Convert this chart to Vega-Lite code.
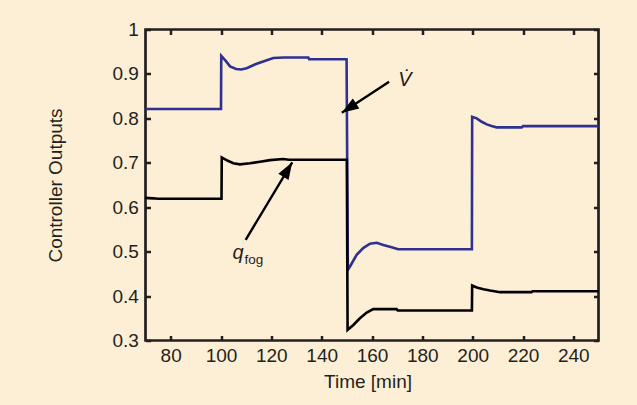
{
  "$schema": "https://vega.github.io/schema/vega-lite/v6.json",
  "width": 453,
  "height": 311,
  "autosize": {"type": "none"},
  "padding": {"left": 145.5, "top": 29.5, "right": 38.5, "bottom": 64.5},
  "background": "#fdefd5",
  "config": {
    "view": {"stroke": "#231f20", "strokeWidth": 2.7, "fill": "#fdefd5"},
    "axis": {
      "domain": false, "grid": false, "ticks": true, "tickSize": -5, "tickWidth": 2.5, "tickColor": "#231f20",
      "labelFont": "Liberation Sans", "labelFontSize": 19, "labelColor": "#231f20",
      "titleFont": "Liberation Sans", "titleFontSize": 19, "titleFontWeight": "normal", "titleColor": "#231f20"
    }
  },
  "datasets": {
    "series": [
      {"t": 70, "value": 0.821, "s": "V"},
      {"t": 100.0, "value": 0.821, "s": "V"},
      {"t": 100.1, "value": 0.9407, "s": "V"},
      {"t": 101.8, "value": 0.930, "s": "V"},
      {"t": 103.6, "value": 0.917, "s": "V"},
      {"t": 106.0, "value": 0.911, "s": "V"},
      {"t": 108.0, "value": 0.910, "s": "V"},
      {"t": 110.2, "value": 0.913, "s": "V"},
      {"t": 114.2, "value": 0.923, "s": "V"},
      {"t": 118.2, "value": 0.931, "s": "V"},
      {"t": 120.8, "value": 0.936, "s": "V"},
      {"t": 125, "value": 0.937, "s": "V"},
      {"t": 134.7, "value": 0.937, "s": "V"},
      {"t": 135, "value": 0.933, "s": "V"},
      {"t": 149.9, "value": 0.933, "s": "V"},
      {"t": 150.4, "value": 0.459, "s": "V"},
      {"t": 151.2, "value": 0.466, "s": "V"},
      {"t": 153.9, "value": 0.493, "s": "V"},
      {"t": 156.5, "value": 0.508, "s": "V"},
      {"t": 159.2, "value": 0.518, "s": "V"},
      {"t": 161.9, "value": 0.520, "s": "V"},
      {"t": 164.5, "value": 0.515, "s": "V"},
      {"t": 167.8, "value": 0.510, "s": "V"},
      {"t": 170.4, "value": 0.5055, "s": "V"},
      {"t": 199.7, "value": 0.5055, "s": "V"},
      {"t": 199.8, "value": 0.8036, "s": "V"},
      {"t": 201.6, "value": 0.800, "s": "V"},
      {"t": 203.6, "value": 0.7923, "s": "V"},
      {"t": 205.6, "value": 0.7864, "s": "V"},
      {"t": 207.5, "value": 0.7826, "s": "V"},
      {"t": 209.5, "value": 0.7797, "s": "V"},
      {"t": 219.5, "value": 0.7797, "s": "V"},
      {"t": 220, "value": 0.7826, "s": "V"},
      {"t": 250, "value": 0.7826, "s": "V"},
      {"t": 70, "value": 0.621, "s": "q"},
      {"t": 73, "value": 0.620, "s": "q"},
      {"t": 75, "value": 0.619, "s": "q"},
      {"t": 100.2, "value": 0.619, "s": "q"},
      {"t": 100.3, "value": 0.712, "s": "q"},
      {"t": 102.5, "value": 0.705, "s": "q"},
      {"t": 104.9, "value": 0.699, "s": "q"},
      {"t": 107.5, "value": 0.6965, "s": "q"},
      {"t": 111.5, "value": 0.699, "s": "q"},
      {"t": 115.5, "value": 0.7024, "s": "q"},
      {"t": 119.5, "value": 0.706, "s": "q"},
      {"t": 124.7, "value": 0.7085, "s": "q"},
      {"t": 127, "value": 0.707, "s": "q"},
      {"t": 150.0, "value": 0.707, "s": "q"},
      {"t": 150.3, "value": 0.324, "s": "q"},
      {"t": 152.6, "value": 0.335, "s": "q"},
      {"t": 155.2, "value": 0.350, "s": "q"},
      {"t": 157.9, "value": 0.363, "s": "q"},
      {"t": 160.5, "value": 0.3706, "s": "q"},
      {"t": 169.8, "value": 0.3706, "s": "q"},
      {"t": 170.2, "value": 0.3675, "s": "q"},
      {"t": 199.7, "value": 0.3675, "s": "q"},
      {"t": 199.8, "value": 0.4236, "s": "q"},
      {"t": 201.6, "value": 0.4192, "s": "q"},
      {"t": 204.3, "value": 0.4155, "s": "q"},
      {"t": 206.9, "value": 0.4124, "s": "q"},
      {"t": 210.9, "value": 0.4088, "s": "q"},
      {"t": 223.4, "value": 0.4088, "s": "q"},
      {"t": 223.8, "value": 0.411, "s": "q"},
      {"t": 250, "value": 0.411, "s": "q"}
    ],
    "arrows": [
      {"name": "V", "t": 166.8, "value": 0.8822, "t2": 148.0, "value2": 0.8126},
      {"name": "q", "t": 109.8, "value": 0.5264, "t2": 128.3, "value2": 0.701}
    ]
  },
  "resolve": {"axis": {"x": "independent", "y": "independent"}},
  "layer": [
    {
      "data": {"name": "series"},
      "mark": {"type": "line", "strokeWidth": 2.6, "strokeJoin": "miter"},
      "encoding": {
        "x": {"field": "t", "type": "quantitative", "scale": {"domain": [70, 250], "nice": false},
              "axis": {"orient": "bottom", "values": [80, 100, 120, 140, 160, 180, 200, 220, 240], "title": "Time [min]",
                       "labelPadding": 11, "titleX": 222, "titleY": 46.6, "titleBaseline": "alphabetic", "titleAnchor": null}},
        "y": {"field": "value", "type": "quantitative", "scale": {"domain": [0.3, 1], "nice": false, "zero": false},
              "axis": {"orient": "left", "values": [0.3, 0.4, 0.5, 0.6, 0.7, 0.8, 0.9, 1], "format": ".1~f", "title": "Controller Outputs",
                       "labelPadding": 12.2, "titleX": -83.8, "titleY": 155.5, "titleBaseline": "alphabetic", "titleAngle": 270}},
        "color": {"field": "s", "type": "nominal", "scale": {"domain": ["V", "q"], "range": ["#2e3192", "#000000"]}, "legend": null}
      }
    },
    {
      "data": {"name": "arrows"},
      "mark": {"type": "rule", "strokeWidth": 2.4, "color": "#000000"},
      "encoding": {
        "x": {"field": "t", "type": "quantitative",
              "axis": {"orient": "top", "values": [80, 100, 120, 140, 160, 180, 200, 220, 240], "labels": false, "title": null}},
        "y": {"field": "value", "type": "quantitative",
              "axis": {"orient": "right", "values": [0.3, 0.4, 0.5, 0.6, 0.7, 0.8, 0.9, 1], "labels": false, "title": null}},
        "x2": {"field": "t2"},
        "y2": {"field": "value2"}
      }
    },
    {
      "data": {"name": "arrows"},
      "transform": [{"filter": "datum.name === 'V'"}],
      "mark": {"type": "point", "shape": "M0,0L0.7,2L-0.7,2Z", "size": 290, "filled": true, "opacity": 1, "color": "#000000", "angle": 236.9},
      "encoding": {
        "x": {"field": "t2", "type": "quantitative", "axis": null},
        "y": {"field": "value2", "type": "quantitative", "axis": null}
      }
    },
    {
      "data": {"name": "arrows"},
      "transform": [{"filter": "datum.name === 'q'"}],
      "mark": {"type": "point", "shape": "M0,0L0.7,2L-0.7,2Z", "size": 290, "filled": true, "opacity": 1, "color": "#000000", "angle": 31},
      "encoding": {
        "x": {"field": "t2", "type": "quantitative", "axis": null},
        "y": {"field": "value2", "type": "quantitative", "axis": null}
      }
    },
    {
      "data": {"values": [{"t": 170.4, "value": 0.872, "label": "V̇"}]},
      "mark": {"type": "text", "font": "Liberation Sans", "fontSize": 20, "fontStyle": "italic", "align": "left", "baseline": "alphabetic", "color": "#231f20"},
      "encoding": {
        "x": {"field": "t", "type": "quantitative", "axis": null},
        "y": {"field": "value", "type": "quantitative", "axis": null},
        "text": {"field": "label"}
      }
    },
    {
      "data": {"values": [{"t": 104.6, "value": 0.483, "label": "q"}]},
      "mark": {"type": "text", "font": "Liberation Sans", "fontSize": 20, "fontStyle": "italic", "align": "left", "baseline": "alphabetic", "color": "#231f20"},
      "encoding": {
        "x": {"field": "t", "type": "quantitative", "axis": null},
        "y": {"field": "value", "type": "quantitative", "axis": null},
        "text": {"field": "label"}
      }
    },
    {
      "data": {"values": [{"t": 109.3, "value": 0.472, "label": "fog"}]},
      "mark": {"type": "text", "font": "Liberation Sans", "fontSize": 13.5, "align": "left", "baseline": "alphabetic", "color": "#231f20"},
      "encoding": {
        "x": {"field": "t", "type": "quantitative", "axis": null},
        "y": {"field": "value", "type": "quantitative", "axis": null},
        "text": {"field": "label"}
      }
    }
  ]
}
